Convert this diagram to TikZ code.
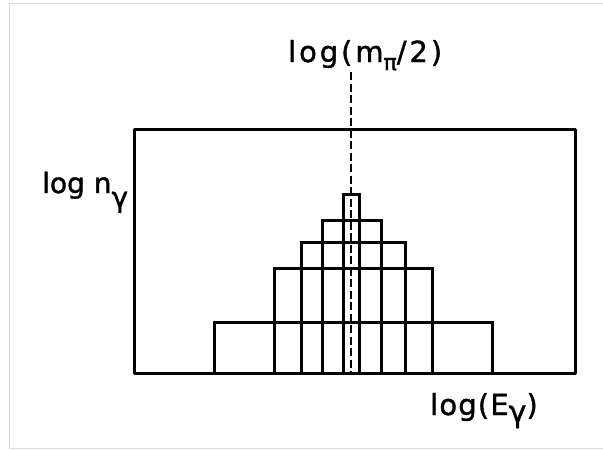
\documentclass[tikz,border=0pt]{standalone}
\usepackage{fontspec}
\newfontfamily\lab[LetterSpace=10,FakeBold=1.3]{DejaVu Sans}
\newfontfamily\labx[LetterSpace=4,FakeBold=1.3]{DejaVu Sans}
\newfontfamily\labn[FakeBold=1.3]{DejaVu Sans}
\tikzset{
  frame/.style={line width=3pt, line join=round},
  bar/.style={line width=3pt, line join=miter},
  guide/.style={line width=2.8pt, dash pattern=on 8pt off 3.5pt},
  border/.style={line width=1.4pt, draw=black!14},
  lbl/.style={inner sep=0pt, anchor=base west, font=\lab\fontsize{29}{29}\selectfont}
}
\begin{document}
\begin{tikzpicture}[x=1pt,y=-1pt]
\useasboundingbox (0,0) rectangle (603,450);
% outer image border
\draw[border] (610,3.5) -- (9.3,3.5) -- (9.3,448.5) -- (610,448.5);
% coordinates
\coordinate (fbl) at (134,373);
\coordinate (ftr) at (575.5,129.5);
\coordinate (dtop) at (351,72);
\coordinate (dbot) at (351,373);
% histogram bars
\draw[bar] (214,373) rectangle (492,322.5);
\draw[bar] (274.5,373) rectangle (432,268.5);
\draw[bar] (301.5,373) rectangle (405.5,242);
\draw[bar] (322.5,373) rectangle (381.5,220);
\draw[bar] (343.5,373) rectangle (359,194);
% dashed guide
\draw[guide] (dtop) -- (dbot);
% frame
\draw[frame] (fbl) rectangle (ftr);
% labels
\node[lbl] (top) at (288,62) {log(m\raisebox{-8pt}{\labn\fontsize{22}{22}\selectfont π}/2)};
\node[lbl, font=\labn\fontsize{28}{28}\selectfont] (yl) at (42,193) {log n\raisebox{-14pt}{γ}};
\node[lbl, font=\labx\fontsize{29}{29}\selectfont] (xl) at (430,415) {log(E\raisebox{-7pt}{\labn\fontsize{30}{30}\selectfont γ})};
\end{tikzpicture}
\end{document}
